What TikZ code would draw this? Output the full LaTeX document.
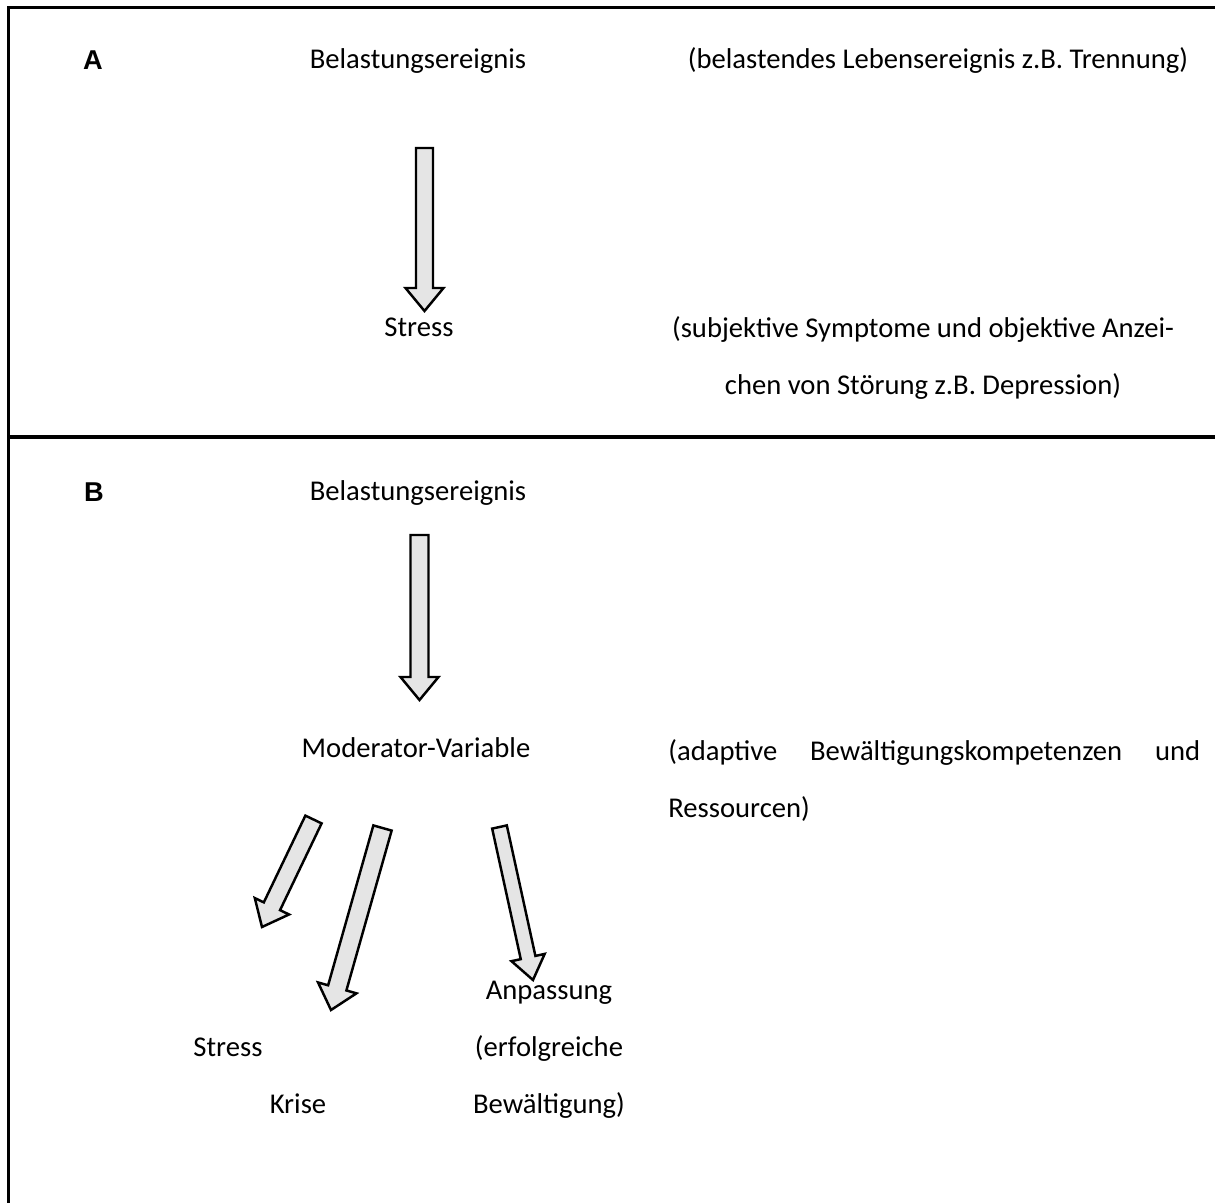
\documentclass[tikz,border=0pt]{standalone}
\usepackage{fontspec}
\setmainfont{Carlito}
\newfontfamily\labelfont{Liberation Sans}
\usetikzlibrary{calc}

% block arrow: from, to, half shaft width, half head width
\newcommand{\fatarrow}[4]{%
  \coordinate (fatbase) at ($(#2)!0.46cm!(#1)$);
  \draw[fatarrow] ($(#1)!#3!90:(#2)$) -- ($(fatbase)!#3!90:(#2)$) -- ($(fatbase)!#4!90:(#2)$) -- (#2)
    -- ($(fatbase)!#4!-90:(#2)$) -- ($(fatbase)!#3!-90:(#2)$) -- ($(#1)!#3!-90:(#2)$) -- cycle;}

\begin{document}
\begin{tikzpicture}[x=0.02cm,y=-0.02cm,font=\fontsize{16.3}{32.4}\selectfont]
\useasboundingbox (0,0) rectangle (1215,1203);

\tikzstyle{fatarrow}=[draw,fill=black!10,line width=1.4pt,line join=miter]
\tikzstyle{txt}=[inner sep=0pt,anchor=base]
\tikzstyle{panel}=[txt,font=\labelfont\fontsize{15.5}{18}\selectfont\bfseries]
\tikzstyle{note}=[inner sep=0pt,anchor=north,align=center]

%FRAME
\coordinate (frameTL) at (8.5,7.5);
\coordinate (frameTR) at (1215,7.5);
\coordinate (frameBL) at (8.5,1203);
\coordinate (midL) at (8.5,437);
\coordinate (midR) at (1215,437);
\draw[line width=2pt] (frameTR) -- (frameTL) -- (frameBL);
\draw[line width=2pt] (midL) -- (midR);

%%%%%%%%%%%%%%%%%%%%%%%%%%%%%%%%%%%%%%%%%%%%%%%%%%%%%%%%%%%%%%
%A
\node[panel] (panelA) at (93,70) {A};
\node[txt] (eventA) at (418,69) {Belastungsereignis};
\node[txt] (eventAnote) at (938,69) {(belastendes Lebensereignis z.B. Trennung)};
\node[txt] (stressA) at (419,337) {Stress};
\node[note] (stressAnote) at (923,316) {(subjektive Symptome und objektive Anzei-\\chen von Störung z.B. Depression)};

%B
\node[panel] (panelB) at (94,501) {B};
\node[txt] (eventB) at (418,500) {Belastungsereignis};
\node[txt] (moderator) at (416,757) {Moderator-Variable};
\node[inner sep=0pt,anchor=north west,text width=10.64cm,align=justify] (moderatornote) at (668,739)
  {(adaptive Bewältigungskompetenzen und\linebreak Ressourcen)};
\node[txt] (stressB) at (228,1056) {Stress};
\node[txt] (crisis) at (298,1113) {Krise};
\node[note] (adapt) at (549,981) {Anpassung\\(erfolgreiche\\Bewältigung)};

%%%%%%%%%%%%%%%%%%%%%%%%%%%%%%%%%%%%%%%%%%%%%%%%%%%%%%%%%%%%%%
%ARROWS
\coordinate (arrowAtop) at (424.5,148);
\coordinate (arrowAtip) at (424.5,311);
\coordinate (arrowBtop) at (419.5,535);
\coordinate (arrowBtip) at (419.5,700);
\coordinate (toStresstop) at (313.5,819.5);
\coordinate (toStresstip) at (262,927);
\coordinate (toCrisistop) at (382.5,828);
\coordinate (toCrisistip) at (331,1010);
\coordinate (toAdapttop) at (499.5,827);
\coordinate (toAdapttip) at (533,980);

\fatarrow{arrowAtop}{arrowAtip}{0.17cm}{0.38cm}
\fatarrow{arrowBtop}{arrowBtip}{0.18cm}{0.38cm}
\fatarrow{toStresstop}{toStresstip}{0.18cm}{0.38cm}
\fatarrow{toCrisistop}{toCrisistip}{0.19cm}{0.4cm}
\fatarrow{toAdapttop}{toAdapttip}{0.15cm}{0.34cm}
\end{tikzpicture}
\end{document}
